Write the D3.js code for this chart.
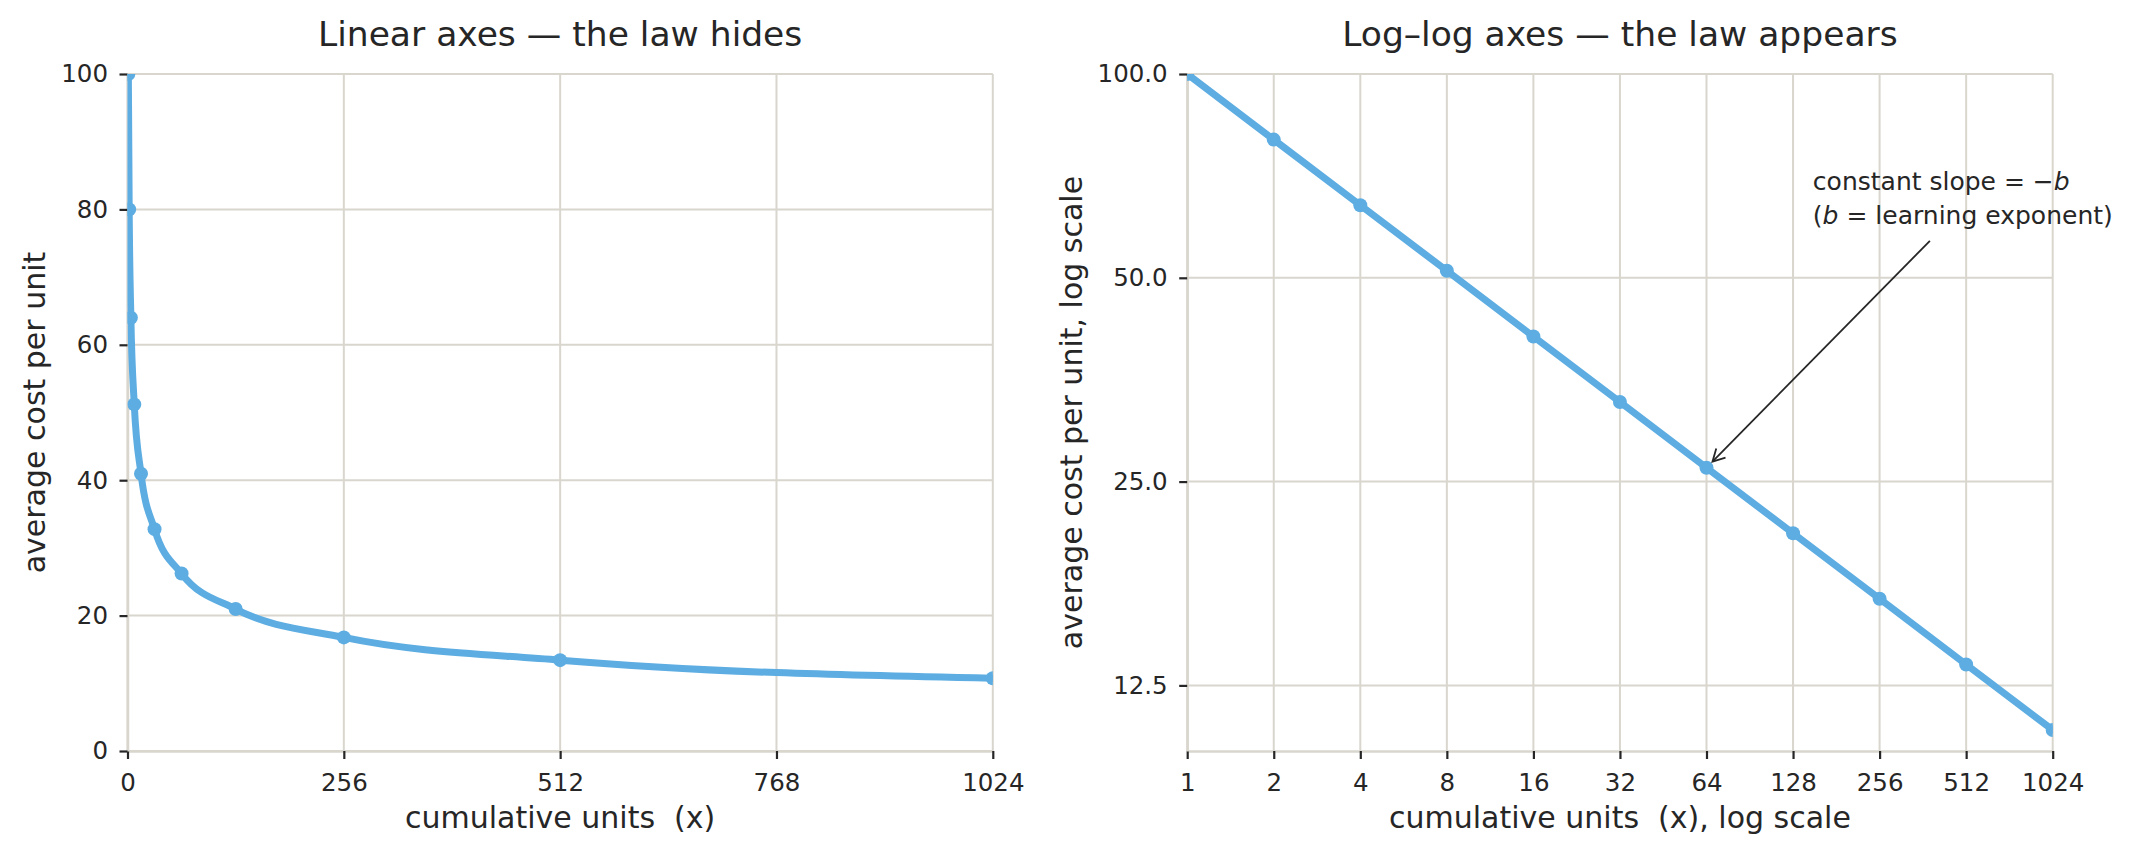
<!DOCTYPE html>
<html>
<head>
<meta charset="utf-8">
<script src="https://cdn.jsdelivr.net/npm/d3@7"></script>
<style>
  html, body { margin: 0; padding: 0; background: #ffffff; }
  svg { display: block; font-family: "DejaVu Sans", sans-serif; }
  text { white-space: pre; }
</style>
</head>
<body>
<svg id="chart" width="2150" height="855"></svg>
<script>
// ---------------- data ----------------
const units    = [1, 2, 4, 8, 16, 32, 64, 128, 256, 512, 1024];
const avgCost  = [100, 80, 64, 51.2, 40.96, 32.77, 26.21, 20.97, 16.78, 13.42, 10.74];

const linXTicks = [0, 256, 512, 768, 1024];
const linYTicks = [0, 20, 40, 60, 80, 100];
const logXTicks = [1, 2, 4, 8, 16, 32, 64, 128, 256, 512, 1024];
const logYTicks = [12.5, 25, 50, 100];

const linXDomain = [0, 1024];
const linYDomain = [0, 100];
const logXDomain = [1, 1024];
const logYDomain = [10, 100];

const titles  = ["Linear axes \u2014 the law hides", "Log\u2013log axes \u2014 the law appears"];
const xLabels = ["cumulative units  (x)", "cumulative units  (x), log scale"];
const yLabels = ["average cost per unit", "average cost per unit, log scale"];

// annotation (data coordinates on the log-log panel)
const annotText   = [150, 60];      // text anchor (left, baseline of last line)
const annotFrom   = [383, 56.7];    // arrow tail
const annotTarget = [64, 26.21];    // arrow points at this data point

// ---------------- style ----------------
const C = {
  line: "#5DADE2",
  grid: "#d9d6ce",
  text: "#262626",
  tick: "#262626"
};
const FS = { title: 34.5, label: 30, tick: 24.5, annot: 25 };

const svg = d3.select("#chart");
svg.attr("xml:space", "preserve");
const defs = svg.append("defs");
defs.append("marker")
  .attr("id", "arrowhead")
  .attr("viewBox", "-14 -8 16 16")
  .attr("refX", 0).attr("refY", 0)
  .attr("markerUnits", "userSpaceOnUse")
  .attr("markerWidth", 16).attr("markerHeight", 16)
  .attr("orient", "auto")
  .append("path")
  .attr("d", "M-12,-6.5 L0,0 L-12,6.5")
  .attr("fill", "none")
  .attr("stroke", C.tick)
  .attr("stroke-width", 1.8);

const panels = [
  { left: 127.5, right: 992.8, top: 74, bottom: 751,
    x: d3.scaleLinear().domain(linXDomain), y: d3.scaleLinear().domain(linYDomain),
    xt: linXTicks, yt: linYTicks, yfmt: d => d3.format("d")(d), xfmt: d => String(d),
    curve: d3.curveMonotoneX, labelX: 45 },
  { left: 1187.2, right: 2052.7, top: 74, bottom: 751,
    x: d3.scaleLog().base(2).domain(logXDomain), y: d3.scaleLog().domain(logYDomain),
    xt: logXTicks, yt: logYTicks, yfmt: d => d3.format(".1f")(d), xfmt: d => String(d),
    curve: d3.curveLinear, labelX: 1082 }
];

panels.forEach((p, i) => {
  p.x.range([p.left, p.right]);
  p.y.range([p.bottom, p.top]);
  const g = svg.append("g");
  const cx = (p.left + p.right) / 2;

  defs.append("clipPath").attr("id", "clip" + i)
    .append("rect")
    .attr("x", p.left).attr("y", p.top)
    .attr("width", p.right - p.left).attr("height", p.bottom - p.top);

  // grid
  g.append("g").selectAll("line").data(p.xt).join("line")
    .attr("x1", d => p.x(d)).attr("x2", d => p.x(d))
    .attr("y1", p.top).attr("y2", p.bottom)
    .attr("stroke", C.grid).attr("stroke-width", 2);
  g.append("g").selectAll("line").data(p.yt).join("line")
    .attr("x1", p.left).attr("x2", p.right)
    .attr("y1", d => p.y(d)).attr("y2", d => p.y(d))
    .attr("stroke", C.grid).attr("stroke-width", 2);

  // axes
  const xAxis = d3.axisBottom(p.x).tickValues(p.xt).tickFormat(p.xfmt)
    .tickSize(8).tickSizeOuter(0).tickPadding(14.5);
  const yAxis = d3.axisLeft(p.y).tickValues(p.yt).tickFormat(p.yfmt)
    .tickSize(8).tickSizeOuter(0).tickPadding(11.5);

  const gx = g.append("g").attr("transform", `translate(0,${p.bottom})`).call(xAxis);
  const gy = g.append("g").attr("transform", `translate(${p.left},0)`).call(yAxis);
  [gx, gy].forEach(ax => {
    ax.attr("font-family", "DejaVu Sans, sans-serif").attr("font-size", FS.tick);
    ax.select(".domain").attr("stroke", C.grid).attr("stroke-width", 2.5);
    ax.selectAll(".tick line").attr("stroke", C.tick).attr("stroke-width", 2.2);
    ax.selectAll(".tick text").attr("fill", C.text);
  });

  // series
  const pts = units.map((u, k) => [u, avgCost[k]]);
  const plot = g.append("g").attr("clip-path", `url(#clip${i})`);
  plot.append("path")
    .datum(pts)
    .attr("d", d3.line().x(d => p.x(d[0])).y(d => p.y(d[1])).curve(p.curve))
    .attr("fill", "none").attr("stroke", C.line).attr("stroke-width", 7)
    .attr("stroke-linejoin", "round").attr("stroke-linecap", "round");
  plot.append("g").selectAll("circle").data(pts).join("circle")
    .attr("cx", d => p.x(d[0])).attr("cy", d => p.y(d[1]))
    .attr("r", 7).attr("fill", C.line);

  // titles & labels
  g.append("text").attr("x", cx).attr("y", 46)
    .attr("text-anchor", "middle").attr("font-size", FS.title).attr("fill", C.text)
    .text(titles[i]);
  g.append("text").attr("x", cx).attr("y", 828)
    .attr("text-anchor", "middle").attr("font-size", FS.label).attr("fill", C.text)
    .text(xLabels[i]);
  g.append("text")
    .attr("transform", `translate(${p.labelX},${(p.top + p.bottom) / 2}) rotate(-90)`)
    .attr("text-anchor", "middle").attr("font-size", FS.label).attr("fill", C.text)
    .text(yLabels[i]);

  if (i === 1) {
    const tx = p.x(annotText[0]), ty = p.y(annotText[1]);
    const t = g.append("text").attr("font-size", FS.annot).attr("fill", C.text);
    const l1 = t.append("tspan").attr("x", tx).attr("y", ty - 34);
    l1.append("tspan").text("constant slope = \u2212");
    l1.append("tspan").attr("font-style", "italic").text("b");
    const l2 = t.append("tspan").attr("x", tx).attr("y", ty);
    l2.append("tspan").text("(");
    l2.append("tspan").attr("font-style", "italic").text("b");
    l2.append("tspan").text(" = learning exponent)");

    const x0 = p.x(annotFrom[0]), y0 = p.y(annotFrom[1]);
    const x1 = p.x(annotTarget[0]), y1 = p.y(annotTarget[1]);
    const len = Math.hypot(x1 - x0, y1 - y0);
    const shrink = 8.5;
    const ex = x1 - (x1 - x0) / len * shrink, ey = y1 - (y1 - y0) / len * shrink;
    g.append("line")
      .attr("x1", x0).attr("y1", y0).attr("x2", ex).attr("y2", ey)
      .attr("stroke", C.tick).attr("stroke-width", 1.8)
      .attr("marker-end", "url(#arrowhead)");
  }
});
</script>
</body>
</html>
